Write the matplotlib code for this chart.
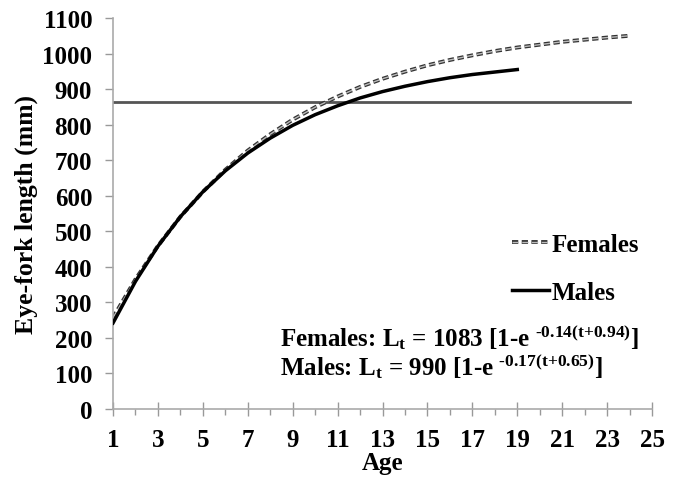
import matplotlib.pyplot as plt
import matplotlib.patheffects as pe

plt.rcParams['font.family'] = 'Liberation Serif'
plt.rcParams['font.weight'] = 'bold'
plt.rcParams['mathtext.fontset'] = 'custom'
plt.rcParams['mathtext.rm'] = 'Liberation Serif:bold'
plt.rcParams['mathtext.it'] = 'Liberation Serif:bold'
plt.rcParams['lines.scale_dashes'] = False

# fitted growth curves at each age
age_f = list(range(1, 25))
len_f = [257, 365, 459, 541, 611, 673, 727, 773, 814, 849, 879, 906,
         929, 949, 967, 982, 995, 1007, 1017, 1025, 1033, 1039, 1045, 1050]
age_m = list(range(1, 20))
len_m = [242, 359, 458, 541, 611, 670, 720, 762, 798, 828, 853, 875,
         893, 908, 921, 932, 941, 948, 955]
ref_x = [1, 24]
ref_y = [865, 865]
xticks = list(range(1, 26, 2))
yticks = list(range(0, 1101, 100))

fig = plt.figure(figsize=(6.78, 4.81), dpi=100)
ax = fig.add_axes([0.1667, 0.1476, 0.795, 0.8129])

ax.plot(ref_x, ref_y, color='#555555', lw=2, zorder=1)
ax.plot(age_f, len_f, color='#bbbbbb', lw=1.0, ls=(0, (4.5, 2.5)),
        path_effects=[pe.Stroke(linewidth=2.8, foreground='#333333'), pe.Normal()],
        label='Females', zorder=2)
ax.plot(age_m, len_m, color='black', lw=2.5, label='Males', zorder=3)

ax.set_xlim(1, 25)
ax.set_ylim(0, 1100)
ax.set_xticks(xticks)
ax.set_xticks(list(range(2, 25, 2)), minor=True)
ax.set_yticks(yticks)
ax.tick_params(axis='x', which='major', direction='inout', length=10, width=1,
               color='#999999', labelsize=18, pad=9)
ax.tick_params(axis='x', which='minor', direction='out', length=4, width=1,
               color='#999999')
ax.tick_params(axis='y', direction='out', length=6, width=1, color='#999999',
               labelsize=18, pad=9)
for s in ['top', 'right']:
    ax.spines[s].set_visible(False)
for s in ['left', 'bottom']:
    ax.spines[s].set_color('#aaaaaa')
    ax.spines[s].set_linewidth(1.2)

ax.set_xlabel('Age', fontsize=18, fontweight='bold', labelpad=0)
ax.set_ylabel('Eye-fork length (mm)', fontsize=18.5, fontweight='bold', labelpad=3)

ax.legend(loc='upper left', bbox_to_anchor=(0.74, 0.45), frameon=False,
          handlelength=1.5, handletextpad=0.1, labelspacing=1.0,
          borderpad=0, borderaxespad=0,
          prop={'weight': 'bold', 'size': 18})

ax.text(0.31, 0.184,
        r'Females: L$_\text{t}$ = 1083 [1-e $^{\text{-0.14(t+0.94)}}$]',
        transform=ax.transAxes, fontsize=18, fontweight='bold', va='center')
ax.text(0.31, 0.110,
        r'Males: L$_\text{t}$ = 990 [1-e $^{\text{-0.17(t+0.65)}}$]',
        transform=ax.transAxes, fontsize=18, fontweight='bold', va='center')

fig.savefig('out.png', dpi=100)
